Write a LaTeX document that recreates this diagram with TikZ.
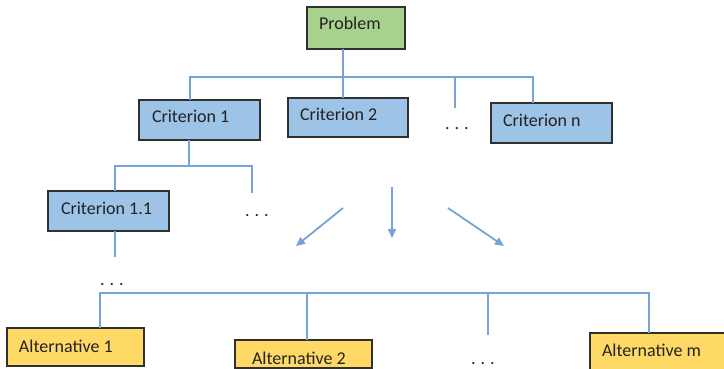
\documentclass[tikz,border=0pt]{standalone}
\usepackage{fontspec}
\setmainfont{Carlito}
\usetikzlibrary{arrows.meta}
\definecolor{probfill}{HTML}{A9D18E}
\definecolor{critfill}{HTML}{9DC3E6}
\definecolor{altfill}{HTML}{FFD966}
\definecolor{linkblue}{RGB}{118,164,214}
\definecolor{boxline}{HTML}{303030}
\definecolor{txt}{HTML}{222222}
\tikzset{
  box/.style={draw=boxline, line width=1.2pt, inner sep=0pt, outer sep=0pt},
  probbox/.style={box, fill=probfill},
  critbox/.style={box, fill=critfill},
  altbox/.style={box, fill=altfill},
  lbl/.style={inner sep=0pt, outer sep=0pt, text=txt, font=\fontsize{18}{20}\selectfont, anchor=base west},
  dots/.style={inner sep=0pt, text=txt, font=\fontsize{18}{20}\selectfont, anchor=base,
               text height=3pt, text depth=0pt},
  conn/.style={draw=linkblue, line width=1.6pt},
  flow/.style={draw=linkblue, line width=1.8pt, -{Triangle[length=9pt,width=8pt]}}
}
\newcommand{\spreaddots}{.\hspace{5pt}.\hspace{5pt}.}
\begin{document}
\begin{tikzpicture}[x=1pt, y=-1pt]
  \clip (0,0) rectangle (724,369);
  \fill[white] (0,0) rectangle (724,369);

  % boxes
  \node[probbox, minimum width=98pt, minimum height=42pt] (prob) at (356,28) {};
  \node[critbox, minimum width=121pt, minimum height=40pt] (c1) at (199.5,120) {};
  \node[critbox, minimum width=120pt, minimum height=39pt] (c2) at (348,117.5) {};
  \node[critbox, minimum width=121pt, minimum height=40pt] (cn) at (551.5,123) {};
  \node[critbox, minimum width=121pt, minimum height=40pt] (c11) at (108.5,211) {};
  \node[altbox, minimum width=137pt, minimum height=38pt] (a1) at (75.5,347) {};
  \node[altbox, minimum width=137pt, minimum height=28pt] (a2) at (303.5,354) {};
  \node[altbox, minimum width=140pt, minimum height=42pt] (am) at (660,354) {};

  % labels
  \node[lbl] (probt) at (319,30) {Problem};
  \node[lbl] (c1t) at (152,123) {Criterion 1};
  \node[lbl] (c2t) at (300,121) {Criterion 2};
  \node[lbl] (cnt) at (503,127) {Criterion n};
  \node[lbl] (c11t) at (61,214) {Criterion 1.1};
  \node[lbl] (a1t) at (19,352) {Alternative 1};
  \node[lbl] (a2t) at (252,364) {Alternative 2};
  \node[lbl] (amt) at (602,356) {Alternative m};

  % ellipses
  \node[dots] (d1) at (457,129) {\spreaddots};
  \node[dots] (d2) at (257,216) {\spreaddots};
  \node[dots] (d3) at (112,285) {\spreaddots};
  \node[dots] (d4) at (483,364) {\spreaddots};

  % bus levels and open branch ends
  \coordinate (busA) at (0,77);
  \coordinate (busB) at (0,166);
  \coordinate (busC) at (0,293);
  \coordinate (openA) at (455,108);
  \coordinate (openB) at (252,193);
  \coordinate (openC) at (115,257);
  \coordinate (openD) at (488,335);

  % problem to criteria
  \draw[conn] ([xshift=-13pt]prob.south) -- ([xshift=-13pt]prob.south |- busA);
  \draw[conn] ([xshift=-9.5pt]c1.north) |- ([xshift=-18.5pt]cn.north |- busA)
              -- ([xshift=-18.5pt]cn.north);
  \draw[conn] ([xshift=-5pt]c2.north) -- ([xshift=-5pt]c2.north |- busA);
  \draw[conn] (openA) -- (openA |- busA);

  % criterion 1 to sub-criteria
  \draw[conn] ([xshift=-10.5pt]c1.south) -- ([xshift=-10.5pt]c1.south |- busB);
  \draw[conn] ([xshift=6.5pt]c11.north) |- (openB |- busB) -- (openB);
  \draw[conn] ([xshift=6.5pt]c11.south) -- (openC);

  % alternatives
  \draw[conn] ([xshift=24.5pt]a1.north) |- (649,293) -- (649,333);
  \draw[conn] ([xshift=3.5pt]a2.north) -- ([xshift=3.5pt]a2.north |- busC);
  \draw[conn] (openD) -- (openD |- busC);

  % spreading arrows
  \coordinate (fl1) at (343,208);
  \coordinate (fl2) at (296,246);
  \coordinate (fm1) at (392,187);
  \coordinate (fm2) at (392,238);
  \coordinate (fr1) at (448,208);
  \coordinate (fr2) at (504,246);
  \draw[flow] (fl1) -- (fl2);
  \draw[flow] (fm1) -- (fm2);
  \draw[flow] (fr1) -- (fr2);
\end{tikzpicture}
\end{document}
